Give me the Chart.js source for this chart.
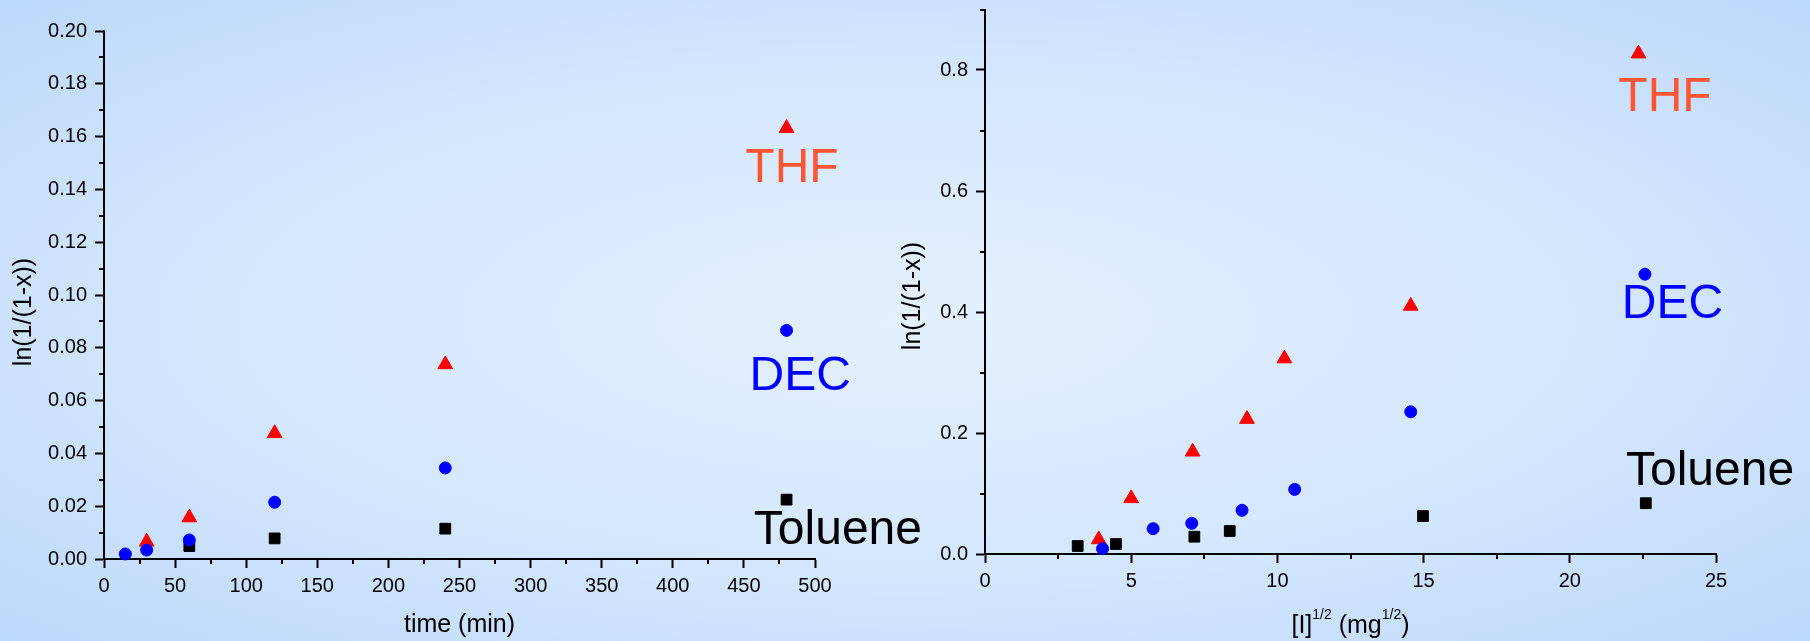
<!DOCTYPE html>
<html>
<head>
<meta charset="utf-8">
<script src="https://cdn.jsdelivr.net/npm/chart.js@4.4.0/dist/chart.umd.min.js"></script>
<style>
  html, body { margin: 0; padding: 0; width: 1810px; height: 641px; overflow: hidden; }
  body { position: relative; background: radial-gradient(ellipse at 50% 50%, #e4f0fe 0%, #d6e8fd 50%, #bdd9fc 100%); }
  .wrap { position: absolute; top: 0; height: 641px; }
  canvas { display: block; }
</style>
</head>
<body>
<div class="wrap" style="left:0;width:940px"><canvas id="c1" width="940" height="641"></canvas></div>
<div class="wrap" style="left:880px;width:930px"><canvas id="c2" width="930" height="641"></canvas></div>
<script>
// ---------- Data: left panel, ln(1/(1-x)) vs time ----------
const timeTHF = [30, 60, 120, 240, 480];
const lnTHF_time = [0.0065, 0.0157, 0.0476, 0.0737, 0.1632];
const timeDEC = [15, 30, 60, 120, 240, 480];
const lnDEC_time = [0.0019, 0.0034, 0.0072, 0.0215, 0.0345, 0.0866];
const timeTol = [60, 120, 240, 480];
const lnTol_time = [0.0049, 0.0078, 0.0115, 0.0225];

// ---------- Data: right panel, ln(1/(1-x)) vs [I]^1/2 ----------
const sqrtI_THF = [3.89, 5.0, 7.1, 8.96, 10.24, 14.56, 22.35];
const lnTHF_I = [0.024, 0.092, 0.169, 0.223, 0.323, 0.410, 0.827];
const sqrtI_DEC = [4.02, 5.75, 7.07, 8.79, 10.59, 14.56, 22.57];
const lnDEC_I = [0.0088, 0.0418, 0.0507, 0.0722, 0.1068, 0.235, 0.4625];
const sqrtI_Tol = [3.17, 4.48, 7.16, 8.37, 14.98, 22.6];
const lnTol_I = [0.0132, 0.0165, 0.0286, 0.038, 0.0627, 0.084];

// ---------- Labels / ticks ----------
const seriesNames = ['THF', 'DEC', 'Toluene'];
const yTitle = 'ln(1/(1-x))';
const xTitleLeft = [{ t: 'time (min)' }];
const xTitleRight = [{ t: '[I]' }, { t: '1/2', sup: true }, { t: ' (mg' }, { t: '1/2', sup: true }, { t: ')' }];

const FONT = "Arial, 'Liberation Sans', sans-serif";
const COLORS = { THF: '#ff0000', DEC: '#0000ff', Toluene: '#000000' };
const LABEL_COLORS = { THF: '#ff5533', DEC: '#0000ff', Toluene: '#000000' };

function pts(xs, ys) { return xs.map((x, i) => ({ x: x, y: ys[i] })); }

const annotPlugin = {
  id: 'annot',
  afterDraw(chart, args, o) {
    const ctx = chart.ctx;
    const xs = chart.scales.x, ys = chart.scales.y;
    const ca = chart.chartArea;
    ctx.save();
    // minor ticks
    ctx.strokeStyle = '#000';
    ctx.lineWidth = 2;
    for (let v = xs.min + o.minorX; v < xs.max + 1e-9; v += 2 * o.minorX) {
      const p = Math.round(xs.getPixelForValue(v));
      ctx.beginPath(); ctx.moveTo(p, ca.bottom); ctx.lineTo(p, ca.bottom + 5); ctx.stroke();
    }
    for (let v = ys.min + o.minorY; v < ys.max + 1e-9; v += 2 * o.minorY) {
      const p = Math.round(ys.getPixelForValue(v));
      ctx.beginPath(); ctx.moveTo(ca.left - 5, p); ctx.lineTo(ca.left, p); ctx.stroke();
    }
    // series labels
    ctx.textAlign = 'left';
    ctx.textBaseline = 'alphabetic';
    ctx.font = '48px ' + FONT;
    o.labels.forEach(l => {
      ctx.fillStyle = LABEL_COLORS[l.text];
      ctx.fillText(l.text, xs.getPixelForValue(l.x), ys.getPixelForValue(l.y));
    });
    // x title with optional superscripts
    const mainF = '25px ' + FONT, supF = '14px ' + FONT;
    let total = 0;
    o.xTitle.forEach(p => { ctx.font = p.sup ? supF : mainF; total += ctx.measureText(p.t).width; });
    let x = (ca.left + ca.right) / 2 - total / 2;
    const base = ca.bottom + o.xTitleOffset;
    ctx.fillStyle = '#000';
    o.xTitle.forEach(p => {
      ctx.font = p.sup ? supF : mainF;
      ctx.fillText(p.t, x, p.sup ? base - 14 : base);
      x += ctx.measureText(p.t).width;
    });
    // y title
    ctx.font = mainF;
    ctx.textAlign = 'center';
    ctx.textBaseline = 'middle';
    ctx.translate(ca.left - o.yTitleOffset, o.yTitleY);
    ctx.rotate(-Math.PI / 2);
    ctx.fillText(yTitle, 0, 0);
    ctx.restore();
  }
};

function makeScales(cfg) {
  const tickFont = { family: FONT, size: 20 };
  return {
    x: {
      type: 'linear', min: cfg.xmin, max: cfg.xmax,
      afterFit(s) { s.height = cfg.xHeight; s.paddingLeft = 0; s.paddingRight = 0; s.paddingTop = 0; s.paddingBottom = 0; },
      ticks: { stepSize: cfg.xstep, color: '#000', font: tickFont, padding: 6, maxRotation: 0, autoSkip: false,
               callback: v => String(v) },
      grid: { drawOnChartArea: false, drawTicks: true, tickLength: 9, tickWidth: 2, tickColor: '#000' },
      border: { display: true, color: '#000', width: 2 },
      title: { display: false }
    },
    y: {
      type: 'linear', min: cfg.ymin, max: cfg.ymax,
      afterFit(s) { s.width = cfg.yWidth; s.paddingLeft = 0; s.paddingRight = 0; s.paddingTop = 0; s.paddingBottom = 0; },
      afterBuildTicks(s) { s.ticks = s.ticks.filter(t => Math.abs(Math.round(t.value / cfg.ystep) * cfg.ystep - t.value) < 1e-9 && t.value <= cfg.yLastLabel + 1e-9); },
      ticks: { stepSize: cfg.ystep, color: '#000', font: tickFont, padding: 8, autoSkip: false,
               callback: v => Number(v).toFixed(cfg.ydec) },
      grid: { drawOnChartArea: false, drawTicks: true, tickLength: 9, tickWidth: 2, tickColor: '#000' },
      border: { display: true, color: '#000', width: 2 },
      title: { display: false }
    }
  };
}

function datasets(thf, dec, tol) {
  return [
    { label: seriesNames[1], data: dec, order: 0, pointStyle: 'circle', pointRadius: 6,
      backgroundColor: COLORS.DEC, borderColor: COLORS.DEC, borderWidth: 1, showLine: false, clip: false },
    { label: seriesNames[0], data: thf, order: 1, pointStyle: 'triangle', pointRadius: 8.5,
      backgroundColor: COLORS.THF, borderColor: COLORS.THF, borderWidth: 1, showLine: false, clip: false },
    { label: seriesNames[2], data: tol, order: 2, pointStyle: 'rect', pointRadius: 7.6,
      backgroundColor: COLORS.Toluene, borderColor: COLORS.Toluene, borderWidth: 1, showLine: false, clip: false }
  ];
}

const common = {
  responsive: false, animation: false, events: [],
  plugins: { legend: { display: false }, tooltip: { enabled: false } }
};

new Chart(document.getElementById('c1'), {
  type: 'scatter',
  data: { datasets: datasets(pts(timeTHF, lnTHF_time), pts(timeDEC, lnDEC_time), pts(timeTol, lnTol_time)) },
  options: Object.assign({}, common, {
    layout: { padding: { left: 0, top: 31, right: 125, bottom: 0 } },
    scales: makeScales({ xmin: 0, xmax: 500, xstep: 50, ymin: 0, ymax: 0.2, ystep: 0.02, ydec: 2, yLastLabel: 0.2, xHeight: 82, yWidth: 104 }),
    plugins: Object.assign({}, common.plugins, {
      annot: {
        minorX: 25, minorY: 0.01,
        labels: [
          { text: 'THF', x: 451, y: 0.1428 },
          { text: 'DEC', x: 454, y: 0.0642 },
          { text: 'Toluene', x: 457, y: 0.0058 }
        ],
        xTitle: xTitleLeft, xTitleOffset: 73,
        yTitleOffset: 80, yTitleY: 312
      }
    })
  }),
  plugins: [annotPlugin]
});

new Chart(document.getElementById('c2'), {
  type: 'scatter',
  data: { datasets: datasets(pts(sqrtI_THF, lnTHF_I), pts(sqrtI_DEC, lnDEC_I), pts(sqrtI_Tol, lnTol_I)) },
  options: Object.assign({}, common, {
    layout: { padding: { left: 0, top: 9, right: 94, bottom: 0 } },
    scales: makeScales({ xmin: 0, xmax: 25, xstep: 5, ymin: 0, ymax: 0.9, ystep: 0.2, ydec: 1, yLastLabel: 0.8, xHeight: 87, yWidth: 105 }),
    plugins: Object.assign({}, common.plugins, {
      annot: {
        minorX: 2.5, minorY: 0.1,
        labels: [
          { text: 'THF', x: 21.66, y: 0.7325 },
          { text: 'DEC', x: 21.78, y: 0.3897 },
          { text: 'Toluene', x: 21.92, y: 0.1148 }
        ],
        xTitle: xTitleRight, xTitleOffset: 79,
        yTitleOffset: 72, yTitleY: 296
      }
    })
  }),
  plugins: [annotPlugin]
});
</script>
</body>
</html>
